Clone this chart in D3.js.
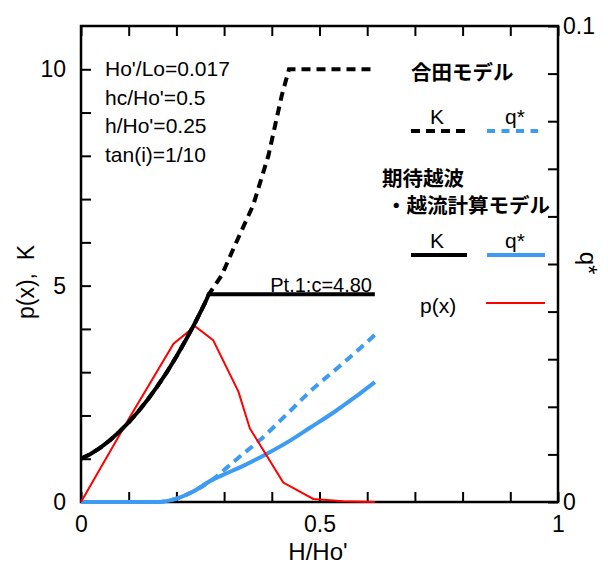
<!DOCTYPE html>
<html>
<head>
<meta charset="utf-8">
<script src="https://cdn.jsdelivr.net/npm/d3@7"></script>
<style>
  html, body { margin: 0; padding: 0; background: #fff; }
  svg { display: block; }
  text { font-family: "Liberation Sans", Arial, sans-serif; fill: #000; }
  .jp { font-family: "Noto Sans CJK JP", sans-serif; font-weight: 700; }
</style>
</head>
<body>
<svg id="chart" width="608" height="567"></svg>
<script>
// H/Ho' positions and values of each series
const kX      = [0, 0.02, 0.04, 0.06, 0.08, 0.10, 0.12, 0.14, 0.16, 0.18, 0.20, 0.22, 0.24, 0.26, 0.268, 0.616];
const kVal    = [1.00, 1.11, 1.25, 1.42, 1.62, 1.84, 2.09, 2.37, 2.67, 3.00, 3.36, 3.75, 4.16, 4.60, 4.80, 4.80];

const godaKX  = [0, 0.02, 0.04, 0.06, 0.08, 0.10, 0.12, 0.14, 0.16, 0.18, 0.20, 0.22, 0.24, 0.26, 0.268, 0.295, 0.323, 0.361, 0.393, 0.421, 0.436, 0.616];
const godaK   = [1.00, 1.11, 1.25, 1.42, 1.62, 1.84, 2.09, 2.37, 2.67, 3.00, 3.36, 3.75, 4.16, 4.60, 4.80, 5.24, 5.94, 6.86, 8.01, 9.40, 10.0, 10.0];

const qX      = [0, 0.10, 0.16, 0.20, 0.235, 0.274, 0.30, 0.34, 0.389, 0.44, 0.48, 0.528, 0.57, 0.616];
const qVal    = [0, 0, 0, 0.0007, 0.0022, 0.0046, 0.0058, 0.0076, 0.0101, 0.0130, 0.0156, 0.0187, 0.0217, 0.0252];

const godaQX  = [0, 0.10, 0.16, 0.20, 0.235, 0.274, 0.288, 0.330, 0.375, 0.430, 0.480, 0.550, 0.616];
const godaQ   = [0, 0, 0, 0.0007, 0.0022, 0.0046, 0.0057, 0.0093, 0.0130, 0.0183, 0.0232, 0.0292, 0.0351];

const pX      = [0, 0.10, 0.194, 0.239, 0.277, 0.330, 0.354, 0.424, 0.487, 0.550, 0.616];
const pVal    = [0, 1.92, 3.66, 4.06, 3.74, 2.55, 1.70, 0.45, 0.07, 0.02, 0.0];

// axis ticks and labels
const xTicks   = [0, 0.1, 0.2, 0.3, 0.4, 0.5, 0.6, 0.7, 0.8, 0.9, 1];
const xLabels  = [0, 0.5, 1];
const yTicks   = [0, 1, 2, 3, 4, 5, 6, 7, 8, 9, 10];
const yLabels  = [0, 5, 10];
const y2Ticks  = [0, 0.01, 0.02, 0.03, 0.04, 0.05, 0.06, 0.07, 0.08, 0.09, 0.1];
const y2Labels = [0, 0.1];

const params = ["Ho'/Lo=0.017", "hc/Ho'=0.5", "h/Ho'=0.25", "tan(i)=1/10"];

const svg = d3.select("#chart");
const plotL = 81, plotR = 558, plotT = 26, plotB = 502;

const x  = d3.scaleLinear().domain([0, 1]).range([plotL, plotR]);
const y  = d3.scaleLinear().domain([0, 11]).range([plotB, plotT]);
const y2 = d3.scaleLinear().domain([0, 0.1]).range([plotB, plotT]);

const fmt = d => d3.format("~g")(d);
const isIn = (arr, d) => arr.some(v => Math.abs(v - d) < 1e-9);

// axes with inward ticks
function styleAxis(g) {
  g.select(".domain").remove();
  g.selectAll(".tick line").attr("stroke", "#000").attr("stroke-width", 2);
  g.selectAll(".tick text").style("font-size", "23px")
    .style("font-family", "Liberation Sans, Arial, sans-serif").attr("fill", "#000");
}
svg.append("g").attr("transform", `translate(0,${plotB})`)
  .call(d3.axisBottom(x).tickValues(xTicks).tickSize(-10).tickPadding(14)
        .tickFormat(d => isIn(xLabels, d) ? fmt(d) : ""))
  .call(styleAxis);
svg.append("g").attr("transform", `translate(0,${plotT})`)
  .call(d3.axisTop(x).tickValues(xTicks).tickSize(-10).tickFormat(""))
  .call(styleAxis);
svg.append("g").attr("transform", `translate(${plotL},0)`)
  .call(d3.axisLeft(y).tickValues(yTicks).tickSize(-10).tickPadding(15)
        .tickFormat(d => isIn(yLabels, d) ? fmt(d) : ""))
  .call(styleAxis);
svg.append("g").attr("transform", `translate(${plotR},0)`)
  .call(d3.axisRight(y2).tickValues(y2Ticks).tickSize(-10).tickPadding(5)
        .tickFormat(d => isIn(y2Labels, d) ? fmt(d) : ""))
  .call(styleAxis);

// frame
svg.append("rect").attr("x", plotL).attr("y", plotT)
  .attr("width", plotR - plotL).attr("height", plotB - plotT)
  .attr("fill", "none").attr("stroke", "#000").attr("stroke-width", 2.5);

const blue = "#3d9bf2";
const lineL = (xs, ys) => d3.line().x((d, i) => x(xs[i])).y(d => y(d))(ys);
const lineR = (xs, ys) => d3.line().curve(d3.curveMonotoneX)
  .x((d, i) => x(xs[i])).y(d => y2(d))(ys);

const plot = svg.append("g");
plot.append("path").attr("d", lineR(godaQX, godaQ)).attr("fill", "none")
  .attr("stroke", blue).attr("stroke-width", 4).attr("stroke-dasharray", "9,6");
plot.append("path").attr("d", lineR(qX, qVal)).attr("fill", "none")
  .attr("stroke", blue).attr("stroke-width", 4);
plot.append("path").attr("d", lineL(pX, pVal)).attr("fill", "none")
  .attr("stroke", "#ff0000").attr("stroke-width", 2);
plot.append("path").attr("d", lineL(godaKX, godaK)).attr("fill", "none")
  .attr("stroke", "#000").attr("stroke-width", 4).attr("stroke-dasharray", "9,6");
plot.append("path").attr("d", lineL(kX, kVal)).attr("fill", "none")
  .attr("stroke", "#000").attr("stroke-width", 4);

// condition text
svg.append("g").selectAll("text").data(params).join("text")
  .attr("x", 105).attr("y", (d, i) => 76 + i * 28.7)
  .style("font-size", "21px").text(d => d);

// constant-value annotation on the K plateau
svg.append("text").attr("x", 372).attr("y", 292).attr("text-anchor", "end")
  .style("font-size", "20px").text("Pt.1:c=4.80");

// axis titles
svg.append("text").attr("x", 318).attr("y", 560).attr("text-anchor", "middle")
  .style("font-size", "24px").text("H/Ho'");
svg.append("text").attr("transform", "translate(34,282) rotate(-90)")
  .attr("text-anchor", "middle").style("font-size", "23px").text("p(x),\u00a0\u00a0K");
svg.append("text").attr("transform", "translate(580,263) rotate(90)")
  .attr("text-anchor", "middle").style("font-size", "24px").text("q*");

// legend
const leg = svg.append("g");
leg.append("text").attr("class", "jp").attr("x", 411).attr("y", 80).style("font-size", "20.5px").text("合田モデル");
leg.append("text").attr("x", 437).attr("y", 124).attr("text-anchor", "middle").style("font-size", "21px").text("K");
leg.append("text").attr("x", 515).attr("y", 124).attr("text-anchor", "middle").style("font-size", "21px").text("q*");
leg.append("line").attr("x1", 411).attr("x2", 468).attr("y1", 131).attr("y2", 131)
  .attr("stroke", "#000").attr("stroke-width", 4).attr("stroke-dasharray", "9,6");
leg.append("line").attr("x1", 487).attr("x2", 538).attr("y1", 131).attr("y2", 131)
  .attr("stroke", blue).attr("stroke-width", 4).attr("stroke-dasharray", "8,6.5");
leg.append("text").attr("class", "jp").attr("x", 382).attr("y", 186).style("font-size", "20.5px").text("期待越波");
leg.append("text").attr("class", "jp").attr("x", 386).attr("y", 213).style("font-size", "20.5px").text("・越流計算モデル");
leg.append("text").attr("x", 437).attr("y", 248).attr("text-anchor", "middle").style("font-size", "21px").text("K");
leg.append("text").attr("x", 515).attr("y", 248).attr("text-anchor", "middle").style("font-size", "21px").text("q*");
leg.append("line").attr("x1", 411).attr("x2", 467).attr("y1", 255).attr("y2", 255)
  .attr("stroke", "#000").attr("stroke-width", 4);
leg.append("line").attr("x1", 487).attr("x2", 545).attr("y1", 255).attr("y2", 255)
  .attr("stroke", blue).attr("stroke-width", 4);
leg.append("text").attr("x", 420).attr("y", 313).style("font-size", "21px").text("p(x)");
leg.append("line").attr("x1", 486).attr("x2", 545).attr("y1", 303).attr("y2", 303)
  .attr("stroke", "#ff0000").attr("stroke-width", 2);
</script>
</body>
</html>
